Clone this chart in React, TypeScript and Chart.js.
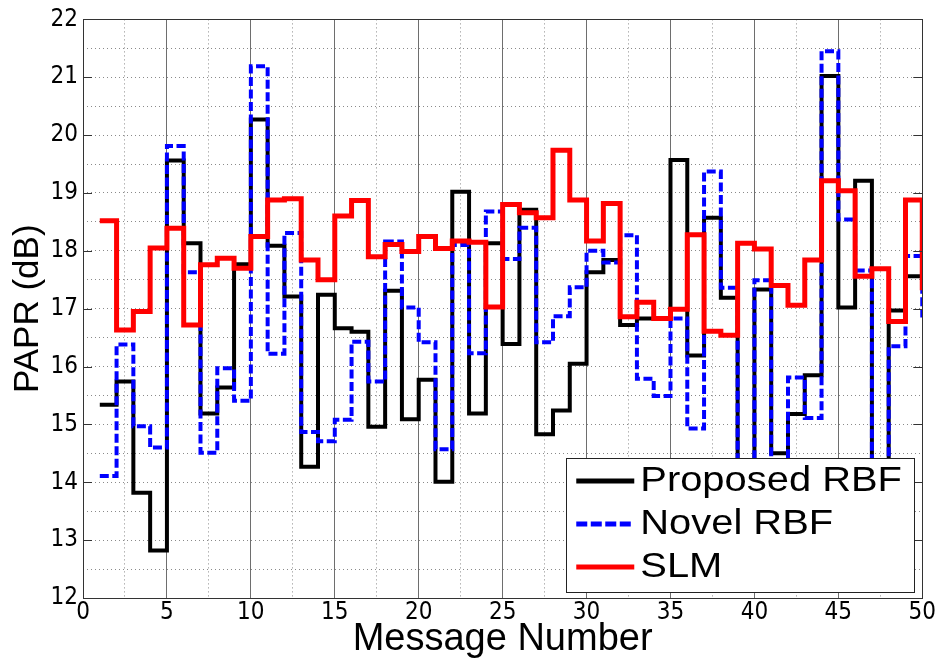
import React, { useEffect, useRef } from "react";
import { Chart, registerables } from "chart.js";

Chart.register(...registerables);

const messageNumbers = [
  1, 2, 3, 4, 5, 6, 7, 8, 9, 10, 11, 12, 13, 14, 15, 16, 17, 18, 19, 20, 21, 22, 23, 24, 25,
  26, 27, 28, 29, 30, 31, 32, 33, 34, 35, 36, 37, 38, 39, 40, 41, 42, 43, 44, 45, 46, 47, 48, 49, 50,
];

const proposedRBF = [
  15.34, 15.74, 13.82, 12.82, 19.56, 18.13, 15.19, 15.64, 17.77, 20.27,
  18.09, 17.21, 14.27, 17.24, 16.66, 16.6, 14.96, 17.31, 15.09, 15.77,
  14.01, 19.02, 15.19, 18.13, 16.39, 18.71, 14.83, 15.24, 16.05, 17.63,
  17.84, 16.72, 16.83, 16.83, 19.57, 16.19, 18.57, 17.19, 13.3, 17.33,
  14.5, 15.18, 15.85, 21.02, 17.02, 19.21, 13.1, 16.97, 17.56, 17.56,
];

const novelRBF = [
  14.11, 16.38, 14.97, 14.6, 19.81, 17.63, 14.51, 15.97, 15.41, 21.19,
  16.22, 18.31, 14.87, 14.71, 15.08, 16.43, 15.74, 18.16, 17.02, 16.42,
  14.57, 18.1, 16.23, 18.68, 17.86, 18.4, 16.42, 16.87, 17.37, 18.0,
  17.8, 18.27, 15.79, 15.49, 16.83, 14.93, 19.37, 17.36, 13.3, 17.49,
  13.9, 15.81, 15.11, 21.45, 18.54, 17.66, 13.1, 16.35, 17.91, 16.85,
];

const slm = [
  18.52, 16.63, 16.95, 18.05, 18.39, 16.72, 17.76, 17.87, 17.7, 18.25,
  18.88, 18.9, 17.84, 17.5, 18.6, 18.87, 17.9, 18.11, 17.99, 18.25,
  18.04, 18.17, 18.15, 17.03, 18.8, 18.66, 18.57, 19.74, 18.88, 18.17,
  18.82, 16.86, 17.11, 16.83, 16.99, 18.28, 16.61, 16.54, 18.13, 18.03,
  17.4, 17.06, 17.84, 19.21, 19.04, 17.56, 17.69, 16.78, 18.88, 17.32,
];

const xTickLabels = [0, 5, 10, 15, 20, 25, 30, 35, 40, 45, 50];
const yTickLabels = [12, 13, 14, 15, 16, 17, 18, 19, 20, 21, 22];

const seriesNames = ["Proposed RBF", "Novel RBF", "SLM"];

const tickFont = {
  family: "'Liberation Sans Narrow', 'Arial Narrow', 'DejaVu Sans Condensed', 'Liberation Sans', Arial, sans-serif",
  size: 24,
};
const titleFamily = "'Liberation Sans', Arial, Helvetica, sans-serif";

const framePlugin = {
  id: "matlabFrame",
  afterDraw(chart: any) {
    const { ctx, chartArea } = chart;
    const { left, right, top, bottom } = chartArea;
    const yScale = chart.scales.y;
    ctx.save();
    ctx.strokeStyle = "#333333";
    ctx.lineWidth = 1;
    ctx.setLineDash([]);
    ctx.beginPath();
    yTickLabels.forEach((v) => {
      const py = Math.round(yScale.getPixelForValue(v)) + 0.5;
      ctx.moveTo(left, py);
      ctx.lineTo(left + 9, py);
      ctx.moveTo(right, py);
      ctx.lineTo(right - 9, py);
    });
    ctx.stroke();
    ctx.strokeRect(Math.round(left) + 0.5, Math.round(top) + 0.5, Math.round(right - left), Math.round(bottom - top));
    ctx.restore();
  },
};

const legendPlugin = {
  id: "boxLegend",
  afterDraw(chart: any) {
    const { ctx, chartArea } = chart;
    const boxRight = chartArea.right - 8;
    const boxBottom = chartArea.bottom - 6;
    const boxW = 348;
    const boxH = 134;
    const boxLeft = boxRight - boxW;
    const boxTop = boxBottom - boxH;
    ctx.save();
    ctx.fillStyle = "#ffffff";
    ctx.fillRect(boxLeft, boxTop, boxW, boxH);
    ctx.strokeStyle = "#222222";
    ctx.lineWidth = 1;
    ctx.setLineDash([]);
    ctx.strokeRect(Math.round(boxLeft) + 0.5, Math.round(boxTop) + 0.5, boxW, boxH);
    const rowGap = 43;
    const firstRow = boxTop + 23;
    const order = [2, 1, 0];
    order.forEach((dsIndex, i) => {
      const ds = chart.data.datasets[dsIndex];
      const y = firstRow + i * rowGap;
      ctx.beginPath();
      ctx.strokeStyle = ds.borderColor;
      ctx.lineWidth = 5;
      ctx.lineCap = "butt";
      ctx.setLineDash(ds.borderDash && ds.borderDash.length ? [11, 3.5] : []);
      ctx.moveTo(boxLeft + 10, y);
      ctx.lineTo(boxLeft + 68, y);
      ctx.stroke();
      ctx.setLineDash([]);
      ctx.save();
      ctx.translate(boxLeft + 74, y);
      ctx.scale(1.14, 1);
      ctx.fillStyle = "#000000";
      ctx.font = `35px ${titleFamily}`;
      ctx.textBaseline = "middle";
      ctx.textAlign = "left";
      ctx.fillText(ds.label, 0, 0);
      ctx.restore();
    });
    ctx.restore();
  },
};

export default function App() {
  const canvasRef = useRef<HTMLCanvasElement | null>(null);

  useEffect(() => {
    if (!canvasRef.current) return;
    const toPoints = (vals: number[]) => messageNumbers.map((x, i) => ({ x, y: vals[i] }));
    const chart = new Chart(canvasRef.current, {
      type: "line",
      data: {
        datasets: [
          {
            label: seriesNames[2],
            data: toPoints(slm),
            borderColor: "#ff0000",
            borderWidth: 5,
            stepped: "before",
            pointRadius: 0,
            fill: false,
            borderJoinStyle: "miter",
            order: 0,
          },
          {
            label: seriesNames[1],
            data: toPoints(novelRBF),
            borderColor: "#0000ff",
            borderWidth: 4,
            borderDash: [9, 3.5],
            stepped: "before",
            pointRadius: 0,
            fill: false,
            borderJoinStyle: "miter",
            order: 1,
          },
          {
            label: seriesNames[0],
            data: toPoints(proposedRBF),
            borderColor: "#000000",
            borderWidth: 4,
            stepped: "before",
            pointRadius: 0,
            fill: false,
            borderJoinStyle: "miter",
            order: 2,
          },
        ],
      },
      options: {
        animation: false,
        responsive: true,
        maintainAspectRatio: false,
        layout: { padding: { left: 0, top: 13, right: 12, bottom: 0 } },
        plugins: {
          legend: { display: false },
          tooltip: { enabled: false },
          title: { display: false },
        },
        scales: {
          x: {
            type: "linear",
            min: 0,
            max: 50,
            afterFit: (scale: any) => {
              scale.height = 68;
            },
            ticks: {
              stepSize: 2.5,
              autoSkip: false,
              maxRotation: 0,
              padding: 0,
              color: "#000000",
              font: tickFont,
              callback: (v: any) => (xTickLabels.includes(Number(v)) ? String(v) : ""),
            },
            grid: {
              drawTicks: false,
              lineWidth: 1,
              color: (c: any) => (c.tick && c.tick.value % 5 === 0 ? "#6e6e6e" : "#8a8a8a"),
            },
            border: {
              display: false,
              dash: (c: any) => (c.tick && c.tick.value % 5 !== 0 ? [1, 3] : []),
            },
            title: {
              display: true,
              text: "Message Number",
              color: "#000000",
              font: { family: titleFamily, size: 38 },
              padding: { top: 0, bottom: 4 },
            },
          },
          y: {
            type: "linear",
            min: 12,
            max: 22,
            afterFit: (scale: any) => {
              scale.width = 83;
            },
            ticks: {
              stepSize: 0.5,
              autoSkip: false,
              padding: 5,
              color: "#000000",
              font: tickFont,
              callback: (v: any) => (yTickLabels.includes(Number(v)) ? String(v) : ""),
            },
            grid: {
              drawTicks: false,
              lineWidth: 1,
              color: "#8a8a8a",
            },
            border: {
              display: false,
              dash: [1, 3],
            },
            title: {
              display: true,
              text: "PAPR (dB)",
              color: "#000000",
              font: { family: titleFamily, size: 35 },
              padding: { top: 7, bottom: 0 },
            },
          },
        },
      },
      plugins: [framePlugin, legendPlugin],
    } as any);
    return () => chart.destroy();
  }, []);

  return (
    <div style={{ position: "absolute", left: 0, top: 0, width: 936, height: 666, background: "#ffffff" }}>
      <canvas ref={canvasRef} />
    </div>
  );
}
